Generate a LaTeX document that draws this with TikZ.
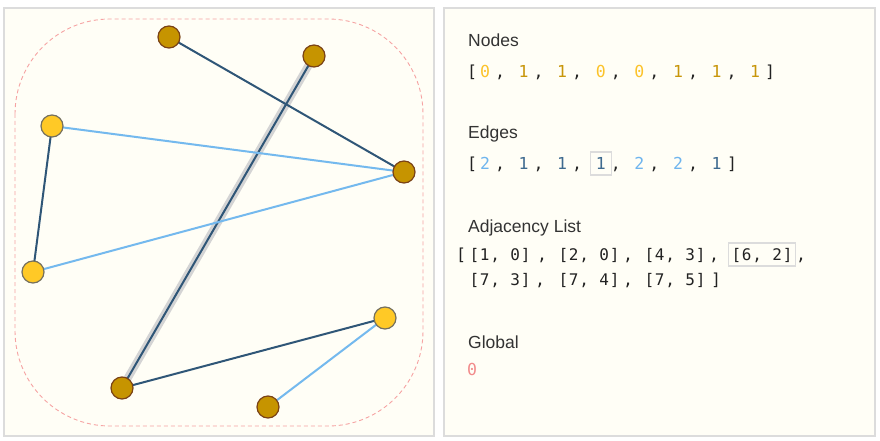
\documentclass[tikz,border=0pt]{standalone}
\usepackage{fontspec}
\setmainfont{Liberation Sans}
\setmonofont{DejaVu Sans Mono}

\definecolor{paper}{HTML}{FFFEF6}
\definecolor{framegray}{HTML}{DCDCDC}
\definecolor{fill0}{HTML}{FFC926}
\definecolor{fill1}{HTML}{C69400}
\definecolor{rim0}{HTML}{75705E}
\definecolor{rim1}{HTML}{7A4216}
\definecolor{wire1}{HTML}{2F5677}
\definecolor{wire2}{HTML}{74B9EE}
\definecolor{halo}{HTML}{D4D4D4}
\definecolor{hull}{HTML}{F6A3A3}
\definecolor{headink}{HTML}{333333}
\definecolor{ink}{HTML}{222222}
\definecolor{nv0}{HTML}{FCC32A}
\definecolor{nv1}{HTML}{C8960A}
\definecolor{ev1}{HTML}{3E6A8F}
\definecolor{ev2}{HTML}{6FB5EE}
\definecolor{gv}{HTML}{F28B8B}

\pgfdeclarelayer{bg}
\pgfdeclarelayer{wires}
\pgfsetlayers{bg,wires,main}

\begin{document}
\begin{tikzpicture}
	[%
	x=1pt, y=-1pt,%
	panel/.style  ={draw=framegray,	fill=paper,	line width=1.6pt},%
	state0/.style ={circle,	draw=rim0,	fill=fill0,	line width=1.2pt,	inner sep=0pt,	minimum size=22pt},%
	state1/.style ={circle,	draw=rim1,	fill=fill1,	line width=1.2pt,	inner sep=0pt,	minimum size=22pt},%
	link1/.style  ={draw=wire1,	line width=2pt},%
	link2/.style  ={draw=wire2,	line width=2pt},%
	heading/.style={anchor=base west,	inner sep=0pt,	text=headink,	font=\fontsize{17.5}{20}\selectfont},%
	code/.style   ={anchor=base,	inner sep=0pt,	text=ink,	font=\ttfamily\fontsize{16.5}{19}\selectfont},%
	pair/.style   ={code,	font=\ttfamily\fontsize{16}{19}\selectfont\addfontfeature{LetterSpace=5}},%
	picked/.style ={draw=framegray,	line width=1.3pt,	inner xsep=5.5pt,	inner ysep=5pt,	text height=12pt,	text depth=1pt},%
	]

	\newcommand\colstep{38.6}

	\useasboundingbox (0,0) rectangle (880,441);

	% panels
	\begin{pgfonlayer}{bg}
	\path [panel] (4,8) rectangle (434,436);
	\path [panel] (444,8) rectangle (875,436);
	\draw [hull, dashed, dash pattern=on 4pt off 3pt, line width=0.9pt, rounded corners=95pt] (15,19) rectangle (423,426);
	\end{pgfonlayer}

	% graph nodes
	\node (n5) at (169, 37) [state1] {};
	\node (n6) at (314, 56) [state1] {};
	\node (n3) at ( 52,126) [state0] {};
	\node (n7) at (404,172) [state1] {};
	\node (n4) at ( 33,272) [state0] {};
	\node (n0) at (385,318) [state0] {};
	\node (n2) at (122,388) [state1] {};
	\node (n1) at (268,407) [state1] {};

	% interconnections
	\begin{pgfonlayer}{wires}
	\draw [halo, line width=8pt] (n6.center) to (n2.center);
	\draw [link2] (n1.center) to (n0.center);
	\draw [link1] (n2.center) to (n0.center);
	\draw [link1] (n4.center) to (n3.center);
	\draw [link1] (n6.center) to (n2.center);
	\draw [link2] (n7.center) to (n3.center);
	\draw [link2] (n7.center) to (n4.center);
	\draw [link1] (n7.center) to (n5.center);
	\end{pgfonlayer}

	% nodes array
	\node (nodeshead) at (468,47) [heading] {Nodes};
	\node (nodesopen) at (472,78) [code] {[};
	\foreach \v [count=\i from 0] in {0,1,1,0,0,1,1,1} \node (nodeval\i) at (485+\colstep*\i,78) [code, text=nv\v] {\v};
	\foreach \i in {0,...,6} \node (nodesep\i) at (500+\colstep*\i,78) [code] {,};
	\node (nodesclose) at (770,78) [code] {]};

	% edges array
	\node (edgeshead) at (468,139) [heading] {Edges};
	\node (edgesopen) at (472,169) [code] {[};
	\foreach \v/\s [count=\i from 0] in {2/,1/,1/,1/picked,2/,2/,1/} \node (edgeval\i) at (485+\colstep*\i,169) [code, text=ev\v, \s] {\v};
	\foreach \i in {0,...,5} \node (edgesep\i) at (500+\colstep*\i,169) [code] {,};
	\node (edgesclose) at (732,169) [code] {]};

	% adjacency list
	\node (adjhead) at (468,232) [heading] {Adjacency List};
	\node (adjopen) at (461,260) [code] {[};
	\node (adj0) at (500,260) [pair] {[1, 0]};
	\node (adj1) at (589,260) [pair] {[2, 0]};
	\node (adj2) at (675,260) [pair] {[4, 3]};
	\node (adj3) at (762,260) [pair, picked, inner xsep=3pt] {[6, 2]};
	\node (adj4) at (500,285) [pair] {[7, 3]};
	\node (adj5) at (589,285) [pair] {[7, 4]};
	\node (adj6) at (675,285) [pair] {[7, 5]};
	\node (adjsep0) at (542,260) [code] {,};
	\node (adjsep1) at (628,260) [code] {,};
	\node (adjsep2) at (714,260) [code] {,};
	\node (adjsep3) at (801,260) [code] {,};
	\node (adjsep4) at (540,285) [code] {,};
	\node (adjsep5) at (628,285) [code] {,};
	\node (adjclose) at (716,285) [code] {]};

	% global
	\node (globalhead) at (468,348) [heading] {Global};
	\node (globalval) at (472,375) [code, text=gv] {0};

\end{tikzpicture}
\end{document}
